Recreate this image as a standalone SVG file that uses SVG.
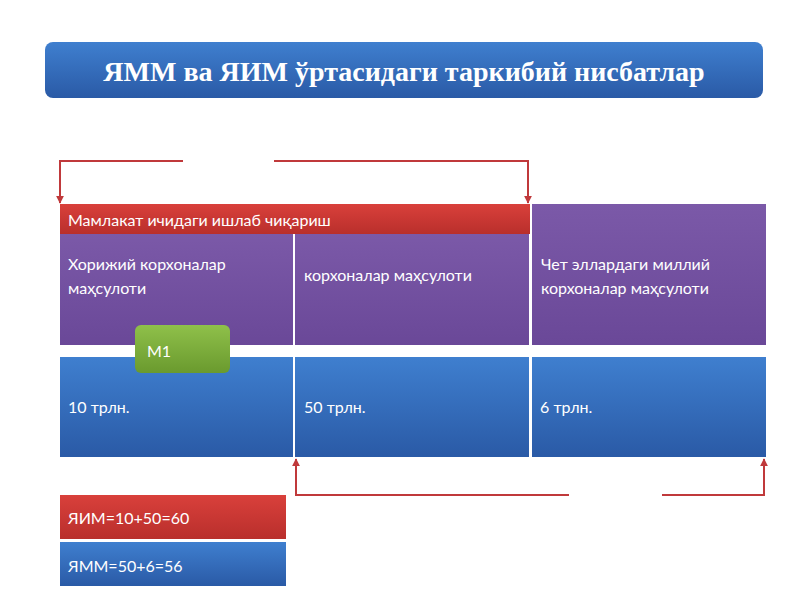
<svg xmlns="http://www.w3.org/2000/svg" width="800" height="600" viewBox="0 0 800 600">
<style>
.t{font-family:"Lato","Liberation Sans",sans-serif;font-size:16px;fill:#fff}
.con{fill:none;stroke:#c0393b;stroke-width:2}
</style>
<defs>
<linearGradient id="gb" x1="0" y1="0" x2="0" y2="1"><stop offset="0" stop-color="#3f7fcf"/><stop offset="1" stop-color="#2a5aa6"/></linearGradient>
<linearGradient id="gp" x1="0" y1="0" x2="0" y2="1"><stop offset="0" stop-color="#7b59a8"/><stop offset="1" stop-color="#6a4898"/></linearGradient>
<linearGradient id="gr" x1="0" y1="0" x2="0" y2="1"><stop offset="0" stop-color="#d9403b"/><stop offset="1" stop-color="#b92f2c"/></linearGradient>
<linearGradient id="gg" x1="0" y1="0" x2="0" y2="1"><stop offset="0" stop-color="#8fc04a"/><stop offset="1" stop-color="#6a9a2e"/></linearGradient>
<marker id="ar" viewBox="0 0 10 10" refX="9" refY="5" markerWidth="4" markerHeight="4" orient="auto"><path d="M0,0L10,5L0,10z" fill="#c0393b"/></marker>
</defs>
<g id="title"><rect x="45" y="42" width="718" height="56" rx="8" fill="url(#gb)"/>
<text x="404" y="81" text-anchor="middle" style="font-family:'Liberation Serif',serif;font-weight:bold;font-size:28px;fill:#fff">ЯММ ва ЯИМ ўртасидаги таркибий нисбатлар</text></g>
<g id="connectors">
<path class="con" d="M183,161H60V203" marker-end="url(#ar)"/>
<path class="con" d="M274,161H528V203" marker-end="url(#ar)"/>
<path class="con" d="M569,495H296V459" marker-end="url(#ar)"/>
<path class="con" d="M662,495H764V459" marker-end="url(#ar)"/>
</g>
<g id="p1"><rect x="60" y="234" width="233" height="111" fill="url(#gp)"/><text class="t" x="68" y="270">Хорижий корхоналар</text><text class="t" x="68" y="294">маҳсулоти</text></g>
<g id="p2"><rect x="295" y="234" width="234" height="111" fill="url(#gp)"/><text class="t" x="304" y="281">корхоналар маҳсулоти</text></g>
<g id="p3"><rect x="532" y="204" width="234" height="141" fill="url(#gp)"/><text class="t" x="541" y="270">Чет эллардаги миллий</text><text class="t" x="541" y="294">корхоналар маҳсулоти</text></g>
<g id="domestic"><rect x="60" y="204" width="470" height="30" fill="url(#gr)"/><text class="t" x="68" y="226">Мамлакат ичидаги ишлаб чиқариш</text></g>
<g id="b1"><rect x="60" y="357" width="233" height="100" fill="url(#gb)"/><text class="t" x="68" y="413">10 трлн.</text></g>
<g id="b2"><rect x="295" y="357" width="234" height="100" fill="url(#gb)"/><text class="t" x="304" y="413">50 трлн.</text></g>
<g id="b3"><rect x="532" y="357" width="234" height="100" fill="url(#gb)"/><text class="t" x="540" y="413">6 трлн.</text></g>
<g id="m1"><rect x="135" y="325" width="95" height="48" rx="6" fill="url(#gg)"/><text class="t" x="147" y="357">M1</text></g>
<g id="yim"><rect x="60" y="495" width="226" height="44" fill="url(#gr)"/><text class="t" x="68" y="524">ЯИМ=10+50=60</text></g>
<g id="ymm"><rect x="60" y="542" width="226" height="44" fill="url(#gb)"/><text class="t" x="68" y="572">ЯММ=50+6=56</text></g>
</svg>
